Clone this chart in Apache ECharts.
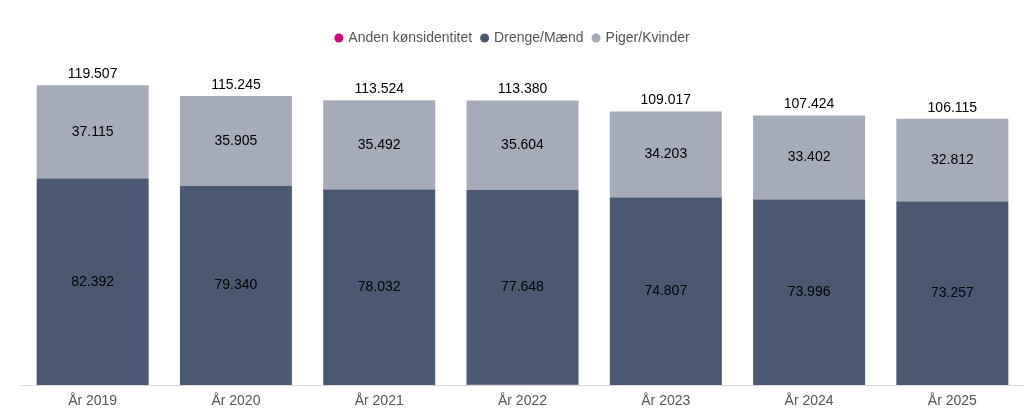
<!DOCTYPE html>
<html>
<head>
<meta charset="utf-8">
<script src="https://cdn.jsdelivr.net/npm/echarts@6/dist/echarts.min.js"></script>
<style>html,body{margin:0;height:100%;background:#fff}</style>
</head>
<body>
<div id="main" style="width:1024px;height:414px;"></div>
<script>
var categories = ['År 2019','År 2020','År 2021','År 2022','År 2023','År 2024','År 2025'];
var anden = [0, 0, 0, 128, 7, 26, 46];
var drenge = [82392, 79340, 78032, 77648, 74807, 73996, 73257];
var piger = [37115, 35905, 35492, 35604, 34203, 33402, 32812];
var totals = [119507, 115245, 113524, 113380, 109017, 107424, 106115];

function fmt(v) { return String(v).replace(/\B(?=(\d{3})+(?!\d))/g, '.'); }

var chart = echarts.init(document.getElementById('main'));
var lbl = { show: true, color: '#000', fontSize: 14, fontFamily: 'Liberation Sans', formatter: function (p) { return fmt(p.value); } };
chart.setOption({
  animation: false,
  textStyle: { fontFamily: 'Liberation Sans' },
  legend: {
    top: 26, left: 'center', itemWidth: 9, itemHeight: 9, icon: 'circle', itemGap: 8,
    textStyle: { color: '#555', fontSize: 14 },
    data: ['Anden kønsidentitet', 'Drenge/Mænd', 'Piger/Kvinder']
  },
  grid: { left: 21, right: -3, top: 84, bottom: 29 },
  xAxis: {
    type: 'category', data: categories,
    axisLine: { lineStyle: { color: '#d9d9d9' } }, axisTick: { show: false },
    axisLabel: { color: '#555', fontSize: 14, margin: 9 }
  },
  yAxis: { type: 'value', min: 0, max: 120000, show: false, splitLine: { show: false } },
  series: [
    { name: 'Anden kønsidentitet', type: 'bar', stack: 's', barWidth: 112, data: anden, itemStyle: { color: '#d6007a' } },
    { name: 'Drenge/Mænd', type: 'bar', stack: 's', data: drenge, itemStyle: { color: '#4a5872' }, label: lbl },
    { name: 'Piger/Kvinder', type: 'bar', stack: 's', data: piger, itemStyle: { color: '#a5abb8' }, label: lbl },
    { name: 'total', type: 'bar', stack: 's', data: totals.map(function () { return 0; }),
      itemStyle: { color: 'transparent' },
      label: { show: true, position: 'top', color: '#000', fontSize: 14, distance: 4,
        formatter: function (p) { return fmt(totals[p.dataIndex]); } } }
  ]
});
</script>
</body>
</html>
